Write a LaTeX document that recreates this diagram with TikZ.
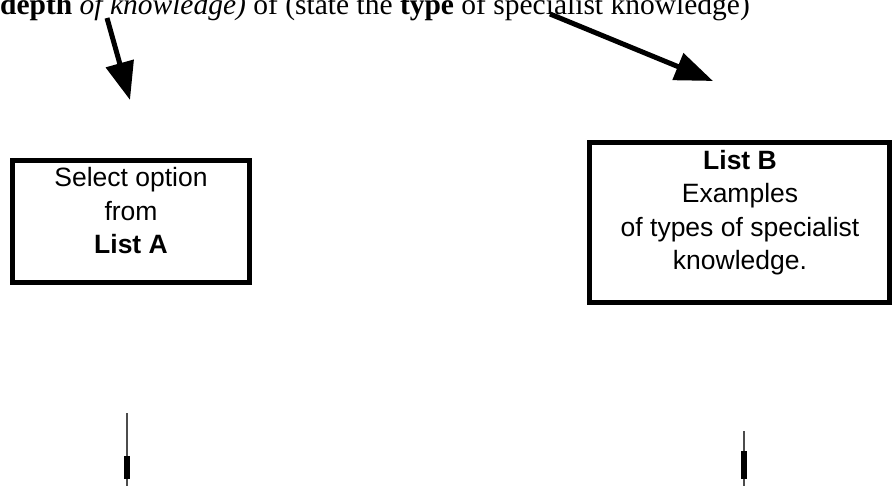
\documentclass[tikz,border=0pt]{standalone}
\usepackage{fontspec}
\setmainfont{Liberation Serif}
\newfontfamily\boxfont{Liberation Sans}
\newfontfamily\topfont{Liberation Serif}
\usetikzlibrary{arrows.meta}
\begin{document}
\begin{tikzpicture}[x=1pt,y=-1pt,
  frame/.style={draw=black, line width=5pt},
  boxtext/.style={font=\boxfont\fontsize{26.5}{33.5}\selectfont, align=center, inner sep=0pt, anchor=north},
  toptext/.style={font=\topfont\fontsize{29.5}{32}\selectfont, inner sep=0pt, anchor=base west},
  bigarrow/.style={line width=5pt, -{Triangle[length=38pt,width=28pt]}},
  stub/.style={line width=2pt, draw=black!70},
  stubhead/.style={line width=6pt, draw=black}]
\useasboundingbox (0,0) rectangle (892,486);
% top sentence (clipped by the page edge)
\node[toptext] (title) at (0,15) {\textbf{depth} \textit{of knowledge)} of (state the \textbf{type} of specialist knowledge)};
% boxes
\node[inner sep=0pt, minimum width=237pt, minimum height=122pt] (boxA) at (131,221.5) {};
\draw[frame] (12.5,160.5) rectangle (249.5,282.5);
\node[inner sep=0pt, minimum width=300pt, minimum height=160pt] (boxB) at (739.5,222.5) {};
\draw[frame] (589.5,142.5) rectangle (889.5,302.5);
\node[boxtext] (textA) at (131,167.5) {Select option\\from\\\textbf{List A}};
\node[boxtext] (textB) at (740,150) {\textbf{List B}\\Examples\\of types of specialist\\knowledge.};
% arrows from the sentence
\coordinate (a1s) at (107,18);
\coordinate (a1e) at (130,100);
\coordinate (a2s) at (550,14);
\coordinate (a2e) at (713,81);
\draw[bigarrow] (a1s) -- (a1e);
\draw[bigarrow] (a2s) -- (a2e);
% small stubs at the bottom
\coordinate (s1t) at (126.5,413);
\coordinate (s1a) at (126.5,456);
\coordinate (s1b) at (126.5,479);
\coordinate (s1e) at (126.5,486);
\draw[stub] (s1t) -- (s1e);
\draw[stubhead] (s1a) -- (s1b);
\coordinate (s2t) at (743.5,431);
\coordinate (s2a) at (743.5,451);
\coordinate (s2b) at (743.5,479);
\coordinate (s2e) at (743.5,486);
\draw[stub] (s2t) -- (s2e);
\draw[stubhead] (s2a) -- (s2b);
\end{tikzpicture}
\end{document}
